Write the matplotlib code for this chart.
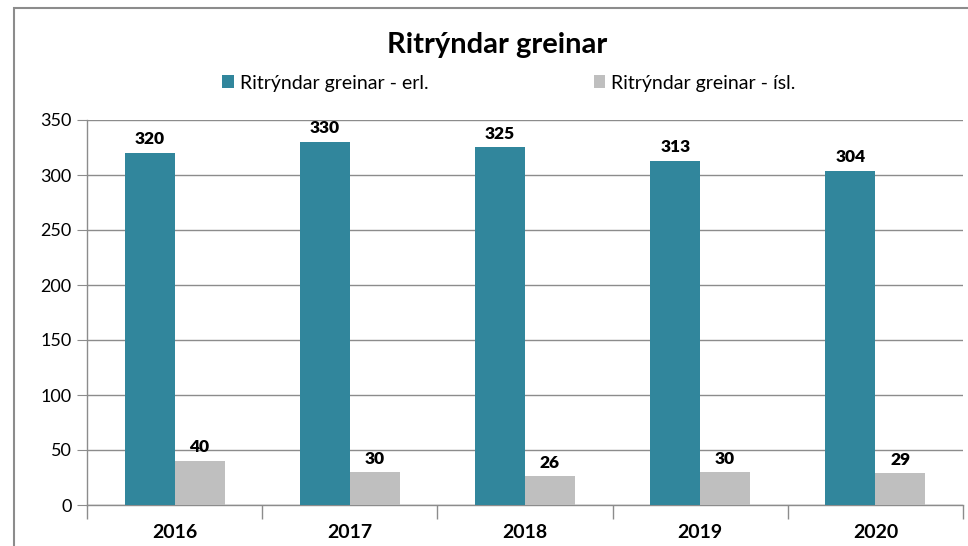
import matplotlib
matplotlib.use("Agg")
import matplotlib.pyplot as plt
from matplotlib.patches import Rectangle
import numpy as np

plt.rcParams['font.family'] = ['Lato', 'DejaVu Sans']

years = ["2016", "2017", "2018", "2019", "2020"]
erl = [320, 330, 325, 313, 304]
isl = [40, 30, 26, 30, 29]
series_names = ["Ritrýndar greinar - erl.", "Ritrýndar greinar - ísl."]
title = "Ritrýndar greinar"

teal = "#31869C"
grey = "#BFBFBF"
axis_grey = "#8C8C8C"

fig = plt.figure(figsize=(9.68, 5.46), dpi=100)
ax = fig.add_axes([87/968, 1-505/546, (963-87)/968, (505-120)/546])

x = np.arange(len(years))
w = 0.285
b1 = ax.bar(x - w/2, erl, w, color=teal, label=series_names[0], zorder=3)
b2 = ax.bar(x + w/2, isl, w, color=grey, label=series_names[1], zorder=3)

for bars, vals in ((b1, erl), (b2, isl)):
    for r, v in zip(bars, vals):
        ax.text(r.get_x() + r.get_width()/2, v + 5, str(v), ha="center", va="bottom",
                fontsize=12.5, fontweight="heavy", color="black")

ax.set_xlim(-0.5, len(years) - 0.5)
ax.set_ylim(0, 350)
ax.set_yticks(np.arange(0, 351, 50))
ax.tick_params(axis="y", length=7, color=axis_grey, labelsize=13, pad=4)
ax.set_xticks(x)
ax.set_xticklabels(years, fontsize=14, fontweight="bold")
ax.tick_params(axis="x", length=0, pad=14)
# category boundary ticks on the x axis
ax.set_xticks(np.arange(-0.5, len(years), 1), minor=True)
ax.tick_params(axis="x", which="minor", length=10, color=axis_grey, width=1)

ax.grid(axis="y", color=axis_grey, linewidth=1, zorder=0)
for s in ("top", "right"):
    ax.spines[s].set_visible(False)
for s in ("left", "bottom"):
    ax.spines[s].set_color(axis_grey)
    ax.spines[s].set_linewidth(1)

fig.text(497/968, 1-45/546, title, ha="center", va="center", fontsize=21, fontweight="bold")
fig.legend(handles=[b1, b2], labels=series_names, loc="center", bbox_to_anchor=(509/968, 1-83/546),
           ncol=2, frameon=False, fontsize=14, handlelength=0.6, handleheight=0.6,
           handletextpad=0.3, columnspacing=8.5)

fig.patches.append(Rectangle((14/968, -0.05), 1.0, 1 - 8/546 + 0.05, transform=fig.transFigure,
                             fill=False, edgecolor=axis_grey, linewidth=1.5))

fig.savefig("out.png", dpi=100)
